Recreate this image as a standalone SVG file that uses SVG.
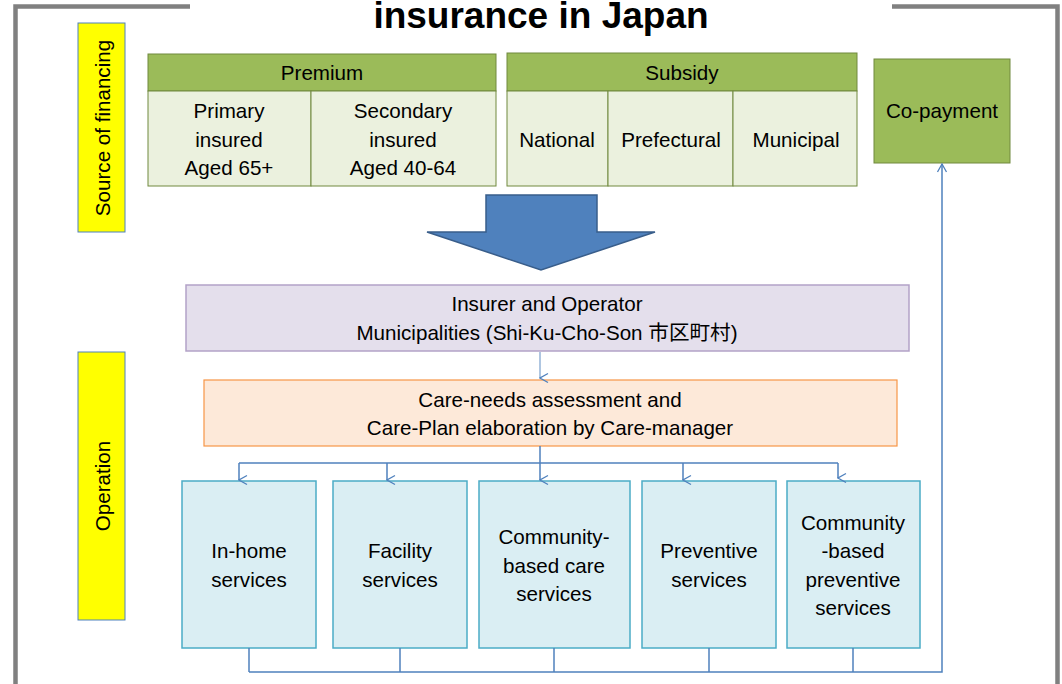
<svg xmlns="http://www.w3.org/2000/svg" width="1062" height="684" viewBox="0 0 1062 684">
<defs>
<marker id="v" viewBox="0 0 12 12" refX="6" refY="11" markerWidth="12" markerHeight="12" markerUnits="userSpaceOnUse" orient="auto-start-reverse">
<path d="M1.5,3 L6,11 L10.5,3" fill="none" stroke="#4F81BD" stroke-width="1.3"/>
</marker>
<marker id="up" viewBox="0 0 12 12" refX="6" refY="1" markerWidth="12" markerHeight="12" markerUnits="userSpaceOnUse" orient="0">
<path d="M1.5,9 L6,1 L10.5,9" fill="none" stroke="#4F81BD" stroke-width="1.3"/>
</marker>
</defs>
<style>
text{font-family:"Liberation Sans",Arial,"Noto Sans CJK JP",sans-serif;font-size:20.6px;fill:#000;text-anchor:middle}
.title{font-size:37px;font-weight:bold}
.frame{fill:none;stroke:#808080;stroke-width:4.5}
.yel{fill:#FFFF00;stroke:#4F81BD;stroke-width:1}
.gh{fill:#9BBB59;stroke:#71893F;stroke-width:1}
.gc{fill:#EBF1DE;stroke:#71893F;stroke-width:1}
.pur{fill:#E4DFEC;stroke:#B3A2C7;stroke-width:1.5}
.org{fill:#FDE9D9;stroke:#F79646;stroke-width:1.2}
.svc{fill:#DAEEF3;stroke:#4BACC6;stroke-width:1.5}
.con{fill:none;stroke:#4F81BD;stroke-width:1.5}
</style>
<rect width="1062" height="684" fill="#fff"/>
<g id="frame">
<polyline class="frame" points="15.5,684 15.5,6.5 190,6.5"/>
<polyline class="frame" points="892,6.5 1057.5,6.5 1057.5,684"/>
</g>
<text class="title" x="541" y="28">insurance in Japan</text>
<g id="label-financing">
<rect class="yel" x="78" y="23" width="47" height="209"/>
<text transform="translate(110,128) rotate(-90)">Source of financing</text>
</g>
<g id="label-operation">
<rect class="yel" x="78" y="352" width="47" height="268"/>
<text transform="translate(110,486) rotate(-90)">Operation</text>
</g>
<g id="premium">
<rect class="gh" x="148" y="54" width="348" height="37"/>
<text x="322" y="80">Premium</text>
<rect class="gc" x="148" y="91" width="163" height="95"/>
<rect class="gc" x="311" y="91" width="185" height="95"/>
<text x="229" y="118">Primary</text>
<text x="229" y="147">insured</text>
<text x="229" y="175">Aged 65+</text>
<text x="403" y="118">Secondary</text>
<text x="403" y="147">insured</text>
<text x="403" y="175">Aged 40-64</text>
</g>
<g id="subsidy">
<rect class="gh" x="507" y="53" width="350" height="38"/>
<text x="682" y="80">Subsidy</text>
<rect class="gc" x="507" y="91" width="101" height="95"/>
<rect class="gc" x="608" y="91" width="125" height="95"/>
<rect class="gc" x="733" y="91" width="124" height="95"/>
<text x="557" y="147">National</text>
<text x="671" y="147">Prefectural</text>
<text x="796" y="147">Municipal</text>
</g>
<g id="copayment">
<rect class="gh" x="874" y="59" width="136" height="104"/>
<text x="942" y="118">Co-payment</text>
</g>
<g id="big-arrow">
<polygon points="486,195 597,195 597,232 655,232 541,270 427,232 486,232" fill="#4F81BD" stroke="#385D8A" stroke-width="1.5" stroke-linejoin="miter"/>
</g>
<g id="insurer">
<rect class="pur" x="186" y="285" width="723" height="66"/>
<text x="547" y="311">Insurer and Operator</text>
<text x="547" y="340">Municipalities (Shi-Ku-Cho-Son 市区町村)</text>
</g>
<g id="care-plan">
<rect class="org" x="204" y="380" width="693" height="66"/>
<text x="550" y="407">Care-needs assessment and</text>
<text x="550" y="435">Care-Plan elaboration by Care-manager</text>
</g>
<g id="svc-inhome">
<rect class="svc" x="182" y="481" width="134" height="167"/>
<text x="249" y="558">In-home</text>
<text x="249" y="587">services</text>
</g>
<g id="svc-facility">
<rect class="svc" x="333" y="481" width="134" height="167"/>
<text x="400" y="558">Facility</text>
<text x="400" y="587">services</text>
</g>
<g id="svc-community">
<rect class="svc" x="479" y="481" width="151" height="167"/>
<text x="554" y="544">Community-</text>
<text x="554" y="573">based care</text>
<text x="554" y="601">services</text>
</g>
<g id="svc-preventive">
<rect class="svc" x="642" y="481" width="134" height="167"/>
<text x="709" y="558">Preventive</text>
<text x="709" y="587">services</text>
</g>
<g id="svc-community-preventive">
<rect class="svc" x="787" y="481" width="133" height="167"/>
<text x="853" y="530">Community</text>
<text x="853" y="558">-based</text>
<text x="853" y="587">preventive</text>
<text x="853" y="615">services</text>
</g>
<g id="connectors">
<line x1="540" y1="352" x2="540" y2="378" stroke="#95B3D7" stroke-width="1.5" marker-end="url(#v)"/>
<polyline class="con" points="540,446 540,463"/>
<polyline class="con" points="239,463 838,463"/>
<line class="con" x1="239" y1="463" x2="239" y2="480" marker-end="url(#v)"/>
<line class="con" x1="387" y1="463" x2="387" y2="480" marker-end="url(#v)"/>
<line class="con" x1="540" y1="463" x2="540" y2="480" marker-end="url(#v)"/>
<line class="con" x1="683" y1="463" x2="683" y2="480" marker-end="url(#v)"/>
<line class="con" x1="838" y1="463" x2="838" y2="478" marker-end="url(#v)"/>
<line class="con" x1="249" y1="648" x2="249" y2="672"/>
<line class="con" x1="400" y1="648" x2="400" y2="672"/>
<line class="con" x1="554" y1="648" x2="554" y2="672"/>
<line class="con" x1="709" y1="648" x2="709" y2="672"/>
<line class="con" x1="853" y1="648" x2="853" y2="672"/>
<polyline class="con" points="249,672 942,672 942,164" marker-end="url(#up)"/>
</g>
</svg>
